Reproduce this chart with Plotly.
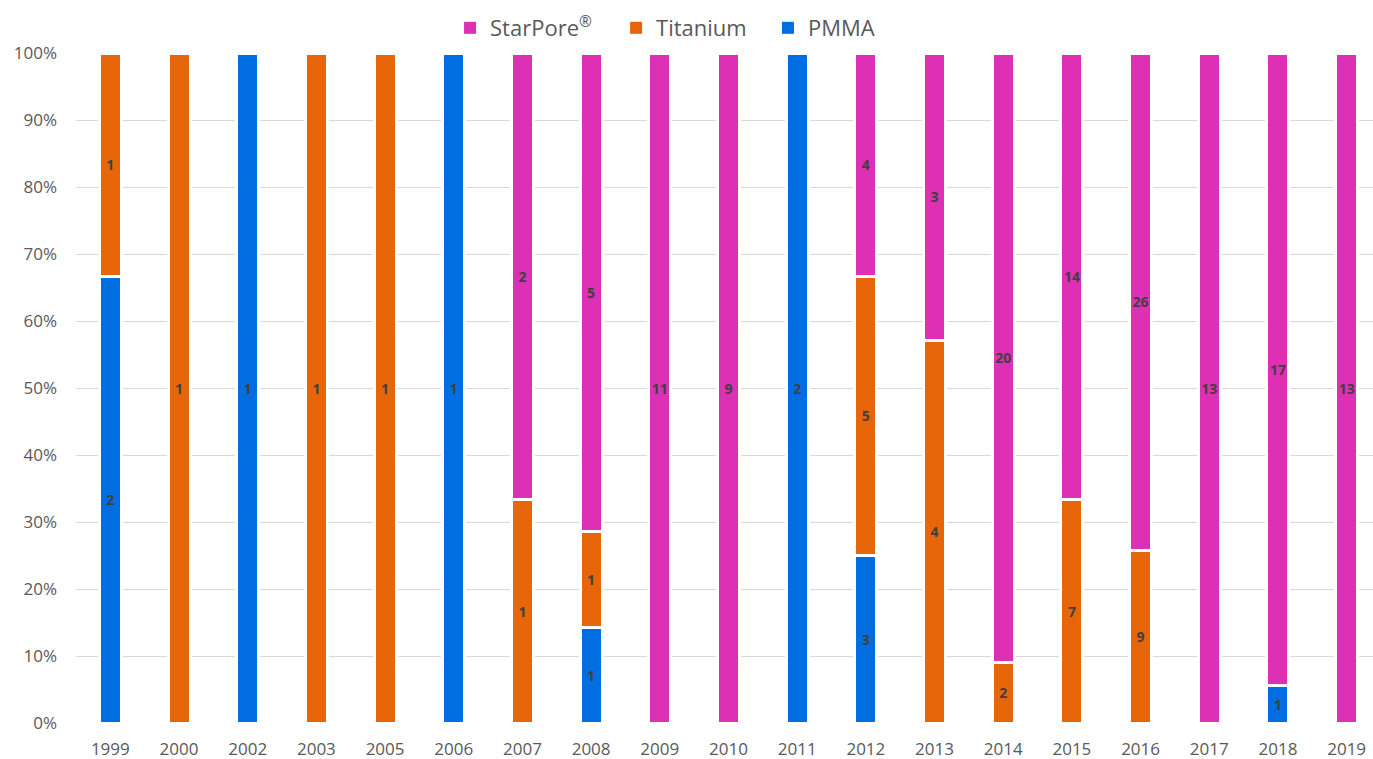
import plotly.graph_objects as go

years = ["1999", "2000", "2002", "2003", "2005", "2006", "2007", "2008", "2009", "2010",
         "2011", "2012", "2013", "2014", "2015", "2016", "2017", "2018", "2019"]
pmma = [2, 0, 1, 0, 0, 1, 0, 1, 0, 0, 2, 3, 0, 0, 0, 0, 0, 1, 0]
titanium = [1, 1, 0, 1, 1, 0, 1, 1, 0, 0, 0, 5, 4, 2, 7, 9, 0, 0, 0]
starpore = [0, 0, 0, 0, 0, 0, 2, 5, 11, 9, 0, 4, 3, 20, 14, 26, 13, 17, 13]

series_names = ["PMMA", "Titanium", "StarPore<sup>®</sup>"]
series_vals = [pmma, titanium, starpore]
colors = ["#006DE0", "#E8660A", "#DD30B4"]
legend_ids = ["legend3", "legend2", "legend"]

totals = [a + b + c for a, b, c in zip(pmma, titanium, starpore)]

fig = go.Figure()
for name, vals, col in zip(series_names, series_vals, colors):
    share = [v / t if v else None for v, t in zip(vals, totals)]
    text = [str(v) if v else "" for v in vals]
    fig.add_trace(go.Bar(
        x=years, y=share, name=name, text=text, showlegend=False,
        textposition="inside", insidetextanchor="middle",
        constraintext="none", textangle=0,
        textfont=dict(family="Open Sans", size=14, color="#404040", weight="bold"),
        marker=dict(color=col, line=dict(color="white", width=3)),
        hoverinfo="skip",
    ))

# legend entries (same series, drawn without the white outline so the key squares are solid)
for name, col, lg in zip(series_names, colors, legend_ids):
    fig.add_trace(go.Bar(
        x=[None], y=[None], name=name, legend=lg, showlegend=True,
        marker=dict(color=col, line=dict(width=0)), hoverinfo="skip",
    ))

leg_common = dict(orientation="h", xanchor="left", y=1.0373, yanchor="middle",
                  font=dict(size=22, color="#595959"), itemclick=False,
                  bgcolor="rgba(0,0,0,0)")
fig.update_layout(
    width=1373, height=759,
    barmode="stack", bargap=0.68,
    paper_bgcolor="white", plot_bgcolor="white",
    margin=dict(l=76, r=0, t=53, b=36),
    font=dict(family="Open Sans", color="#595959", size=17),
    legend=dict(x=0.2884, **leg_common),
    legend2=dict(x=0.4164, **leg_common),
    legend3=dict(x=0.5335, **leg_common),
)
fig.update_xaxes(type="category", range=[-0.5, 18.384], showgrid=False,
                 showline=False, ticks="", tickfont=dict(size=17, color="#595959"),
                 ticklabelstandoff=14)
fig.update_yaxes(range=[0, 1], dtick=0.1, tickformat=".0%", showgrid=True,
                 gridcolor="#D9D9D9", gridwidth=1, zeroline=False, showline=False,
                 ticks="", tickfont=dict(size=17, color="#595959"),
                 ticklabelstandoff=18)

fig.write_html("out.html")
